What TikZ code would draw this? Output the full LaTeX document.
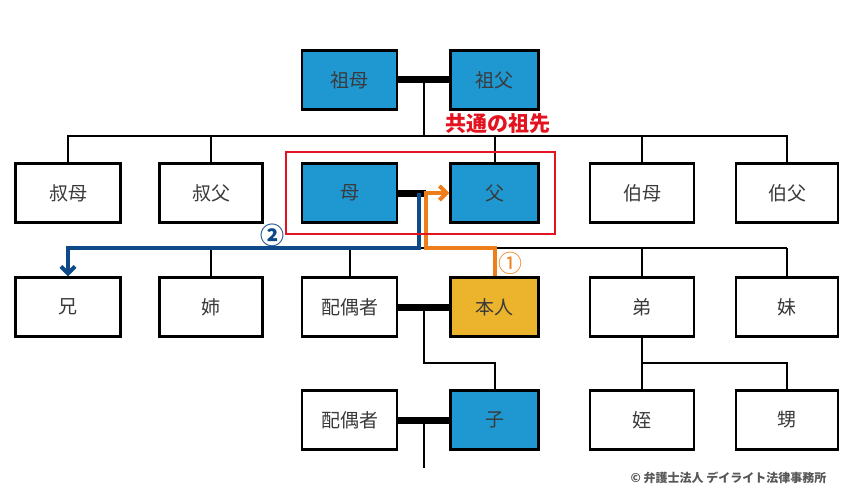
\documentclass[tikz,border=0pt]{standalone}
\usepackage{fontspec}
\setmainfont{Noto Sans CJK JP}
\usetikzlibrary{arrows.meta, fit}
\definecolor{kinblue}{HTML}{1F98D2}
\definecolor{selfyellow}{HTML}{EBB42C}
\definecolor{arroworange}{HTML}{EE7E1B}
\definecolor{arrowblue}{HTML}{0E4A8A}
\definecolor{ancestorred}{HTML}{E3131F}
\definecolor{textgray}{HTML}{3A3A3A}
\tikzset{
    box/.style={draw=black, line width=2.5pt, minimum height=59pt, inner sep=0pt,
        text=textgray, font=\fontsize{19}{21}\selectfont},
    kin/.style={box, fill=kinblue},
    me/.style={box, fill=selfyellow},
    link/.style={line width=2pt},
    marry/.style={line width=7pt},
    route/.style={line width=4pt, -{Straight Barb[length=7pt,width=14pt]}},
}

\begin{document}
\begin{tikzpicture}[x=1pt, y=-1pt]
\useasboundingbox (0,0) rectangle (850,497);

% grandparents
\node[kin, minimum width=95pt] (sobo) at (349.5,80) {祖母};
\node[kin, minimum width=88pt] (sofu) at (494.5,80) {祖父};

% parents generation
\node[box, minimum width=105pt] (shukubo) at (68,193) {叔母};
\node[box, minimum width=103pt] (shukufu) at (211,193) {叔父};
\node[kin, minimum width=95pt] (haha) at (349.5,193) {母};
\node[kin, minimum width=88pt] (chichi) at (494.5,193) {父};
\node[box, minimum width=104pt] (hakubo) at (642,193) {伯母};
\node[box, minimum width=102pt] (hakufu) at (787,193) {伯父};

% own generation
\node[box, minimum width=105pt] (ani) at (68,307) {兄};
\node[box, minimum width=103pt] (ane) at (211,307) {姉};
\node[box, minimum width=95pt] (haiguusha) at (349.5,307) {配偶者};
\node[me, minimum width=88pt] (honnin) at (494.5,307) {本人};
\node[box, minimum width=104pt] (otouto) at (642,307) {弟};
\node[box, minimum width=102pt] (imouto) at (787,307) {妹};

% children
\node[box, minimum width=95pt] (haiguusha2) at (349.5,420) {配偶者};
\node[kin, minimum width=88pt] (ko) at (494.5,420) {子};
\node[box, minimum width=104pt] (mei) at (642,420) {姪};
\node[box, minimum width=102pt] (oi) at (787,420) {甥};

\coordinate (mid1) at (424,80);
\coordinate (gen1) at (424,136);
\coordinate (mid2) at (426,193);
\coordinate (bluetop) at (419,193);
\coordinate (sib) at (419,248);
\coordinate (orangeturn) at (426,248);
\coordinate (mid3) at (424,305);
\coordinate (kidrow) at (424,363);
\coordinate (mid4) at (424,420);
\coordinate (down) at (424,468);

% lines
\draw[marry] (sobo.east) -- (sofu.west);
\draw[link] (mid1) -- (gen1);
\draw[link] (shukubo.north) |- (gen1) -| (hakufu.north);
\foreach \n in {shukufu, chichi, hakubo}
    \draw[link] (\n.north) -- (\n.north |- gen1);

\draw[marry] (haha.east) -- (mid2);
\draw[link] (ani.north |- sib) -- (imouto.north |- sib);
\foreach \n in {ane, haiguusha, otouto, imouto}
    \draw[link] (\n.north) -- (\n.north |- sib);

\draw[marry] (haiguusha.east) -- (honnin.west);
\draw[link] (mid3) -- (kidrow) -| (ko.north);
\draw[link] (otouto.south) |- (kidrow -| oi.north) -- (oi.north);
\draw[link] (mei.north) -- (mei.north |- kidrow);

\draw[marry] (haiguusha2.east) -- (ko.west);
\draw[link] (mid4) -- (down);

% routes
\draw[route, arrowblue] (bluetop) -- (sib) -| (ani.north);
\draw[route, arroworange] (honnin.north) |- (orangeturn) |- (chichi.west);
\node[arrowblue, font=\bfseries\fontsize{24}{24}\selectfont] (two) at (272,235) {②};
\node[arroworange, font=\fontsize{24}{24}\selectfont] (one) at (510,263) {①};

% common ancestors
\node[draw=ancestorred, line width=2pt, fit=(haha)(chichi), inner xsep=15pt, inner ysep=10pt] (ancestors) {};
\node[ancestorred, font=\bfseries\fontsize{21}{22}\selectfont] (ancestorlabel) at (498,124) {共通の祖先};

\node[anchor=east, text=textgray!85, font=\bfseries\fontsize{12}{12}\selectfont] (copyright) at (830,478) {© 弁護士法人 デイライト法律事務所};
\end{tikzpicture}
\end{document}
